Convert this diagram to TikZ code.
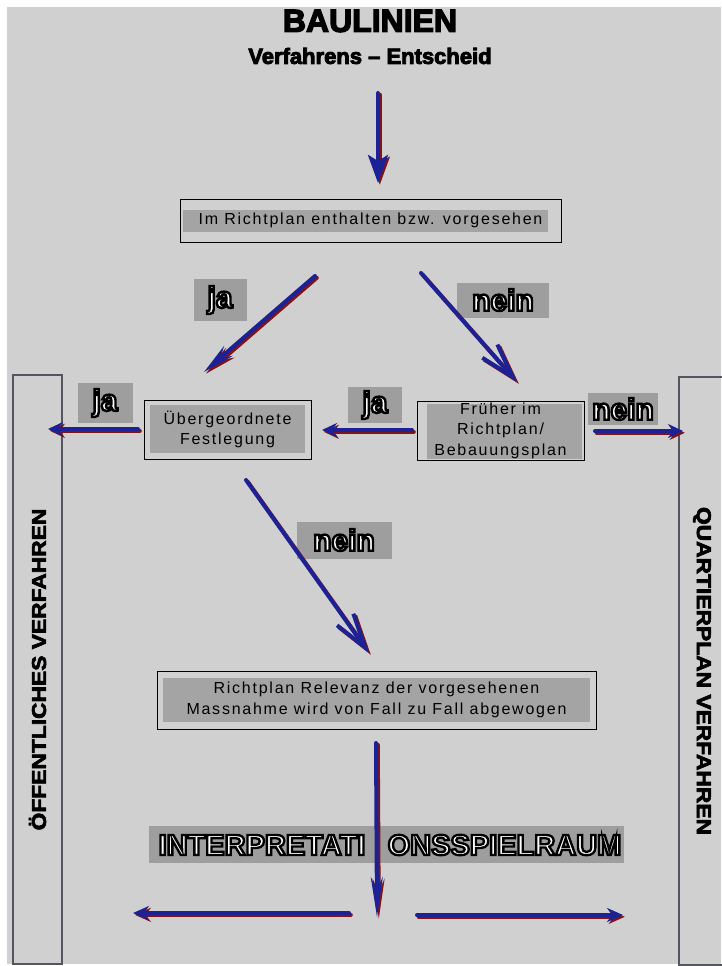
\documentclass[tikz,border=0pt]{standalone}
\usepackage{fontspec}
\setmainfont{Liberation Sans}
\newfontfamily\boxfont[LetterSpace=11]{Liberation Sans}
\newfontfamily\heavyfont[FakeBold=4]{Liberation Sans Bold}
\newfontfamily\sidefont[FakeBold=3]{Liberation Sans Bold}
\newfontfamily\outlfont[FakeBold=8]{Liberation Sans Bold}
\newcommand\outl[1]{\special{pdf:code 0 0 0 RG}#1}
\usetikzlibrary{arrows.meta}
\definecolor{bggray}{RGB}{208,208,208}
\definecolor{boxgray}{RGB}{164,164,164}
\definecolor{labgray}{RGB}{158,158,158}
\definecolor{sidegray}{RGB}{85,85,95}
\definecolor{arrblue}{RGB}{28,34,150}
\definecolor{arrred}{RGB}{125,20,25}
\newcommand\flowarrow[3]{%
  \begin{scope}[transform canvas={xshift=1.8pt,yshift=-1.8pt}]
    \draw[shadowline,#1] (#2) -- (#3);
  \end{scope}
  \draw[flowline,#1] (#2) -- (#3);}
\begin{document}
\begin{tikzpicture}[x=1pt,y=-1pt,
  every node/.style={inner sep=0pt,outer sep=0pt},
  frame/.style={draw=black,line width=0.9pt,align=center,text=black,
    font=\boxfont\fontsize{16}{20.5}\selectfont},
  lab/.style={fill=labgray,text=white,font=\outlfont\fontsize{30}{32}\selectfont},
  side/.style={draw=sidegray,line width=1.3pt},
  sidetext/.style={font=\sidefont\fontsize{20}{22}\selectfont},
  flowline/.style={line width=4pt,draw=arrblue,line cap=round},
  shadowline/.style={line width=4pt,draw=arrred,line cap=round},
  tipS/.style={-{Stealth[length=#1,width=14pt]}},
  barb/.style={-{Straight Barb[length=34pt,width=20pt]}}
]
\useasboundingbox (0,0) rectangle (721,966);
\fill[white] (0,0) rectangle (721,966);
\fill[bggray] (7,7) rectangle (721,964);

% title
\node[font=\heavyfont\fontsize{32}{36}\selectfont] (title) at (370,21) {BAULINIEN};
\node[font=\heavyfont\fontsize{22}{24}\selectfont] (sub) at (370,56) {Verfahrens – Entscheid};

% side panels
\node[side,rotate=90,minimum width=589pt,minimum height=49pt,sidetext] (oeff) at (37.5,669.5)
  {\scalebox{1.14}[1]{ÖFFENTLICHES VERFAHREN}};
\node[side,rotate=-90,minimum width=588pt,minimum height=46pt,sidetext] (quart) at (702,671)
  {\scalebox{1.14}[1]{QUARTIERPLAN VERFAHREN}};

% boxes (inner grey bands first)
\fill[boxgray] (183,210) rectangle (548,232);
\node[frame,minimum width=381pt,minimum height=43pt] (richt) at (370.5,220.5)
  {Im Richtplan enthalten bzw. vorgesehen};
\fill[boxgray] (150,405) rectangle (305,453);
\node[frame,minimum width=167pt,minimum height=59pt] (ueber) at (227.5,429.5)
  {Übergeordnete\\Festlegung};
\fill[boxgray] (427,404) rectangle (582,459);
\node[frame,minimum width=167pt,minimum height=59pt] (frueher) at (500.5,430.5)
  {Früher im\\Richtplan/\\Bebauungsplan};
\fill[boxgray] (163,678) rectangle (590,722);
\node[frame,minimum width=439pt,minimum height=58pt] (relev) at (376.5,700)
  {Richtplan Relevanz der vorgesehenen\\Massnahme wird von Fall zu Fall abgewogen};

% labels
\node[lab,minimum width=53pt,minimum height=42pt] (ja1) at (220,300) {\outl{ja}};
\node[lab,minimum width=92pt,minimum height=35pt] (nein1) at (503,300) {\outl{nein}};
\node[lab,minimum width=55pt,minimum height=40pt] (ja2) at (105,403) {\outl{ja}};
\node[lab,minimum width=54pt,minimum height=36pt] (ja3) at (375,405) {\outl{ja}};
\node[lab,minimum width=70pt,minimum height=32pt] (nein2) at (623,409) {\outl{nein}};
\node[lab,minimum width=95pt,minimum height=37pt] (nein3) at (344,540) {\outl{nein}};

% interpretation band
\node[fill=labgray,minimum width=475pt,minimum height=37pt] (interp) at (386.5,844.5) {};
\node[text=white,font=\outlfont\fontsize{29}{30}\selectfont] (interpL) at (262,845)
  {\outl{INTERPRETATI}};
\node[text=white,font=\outlfont\fontsize{29}{30}\selectfont] (interpR) at (504.5,845)
  {\outl{ONSSPIELRAUM}};

% arrow end points
\coordinate (a1s) at (378,93);   \coordinate (a1e) at (378,183);
\coordinate (a2s) at (315,276);  \coordinate (a2e) at (204,372);
\coordinate (a3s) at (421,273);  \coordinate (a3e) at (517,382);
\coordinate (a4s) at (138,429);  \coordinate (a4e) at (48,429);
\coordinate (a5s) at (412,430);  \coordinate (a5e) at (322,430);
\coordinate (a6s) at (595,431);  \coordinate (a6e) at (683,431);
\coordinate (a7s) at (246,480);  \coordinate (a7e) at (369,653);
\coordinate (a8s) at (376,743);  \coordinate (a8e) at (377,917);
\coordinate (a9s) at (349,913);  \coordinate (a9e) at (133,913);
\coordinate (a10s) at (417,915); \coordinate (a10e) at (623,915);

\flowarrow{-{Stealth[length=28pt,width=20pt,inset=6pt]}}{a1s}{a1e}
\flowarrow{-{Stealth[length=32pt,width=13pt]}}{a2s}{a2e}
\flowarrow{barb}{a3s}{a3e}
\flowarrow{tipS=15pt}{a4s}{a4e}
\flowarrow{tipS=15pt}{a5s}{a5e}
\flowarrow{tipS=15pt}{a6s}{a6e}
\flowarrow{barb}{a7s}{a7e}
\flowarrow{-{Stealth[length=40pt,width=12pt]}}{a8s}{a8e}
\flowarrow{tipS=16pt}{a9s}{a9e}
\flowarrow{tipS=16pt}{a10s}{a10e}
\end{tikzpicture}
\end{document}
